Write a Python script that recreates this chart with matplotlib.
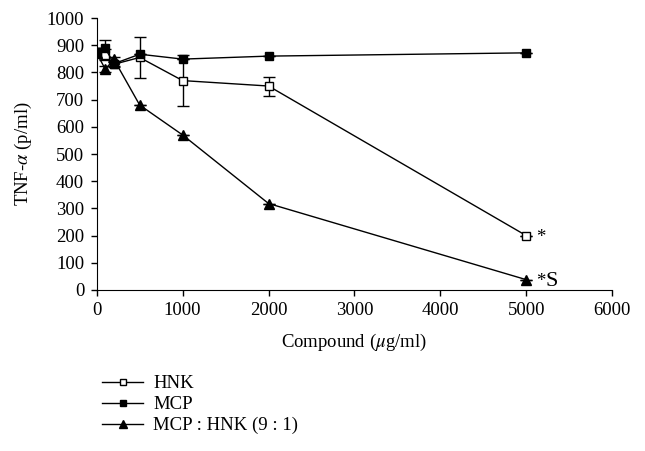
import matplotlib
matplotlib.use("Agg")
import matplotlib.pyplot as plt
from matplotlib.lines import Line2D

plt.rcParams['font.family'] = ['Liberation Serif', 'DejaVu Serif']
plt.rcParams['mathtext.fontset'] = 'stix'

# data
dose = [0, 100, 200, 500, 1000, 2000, 5000]
hnk = [875, 865, 830, 855, 770, 750, 200]
hnk_err = [15, 20, 10, 77, 93, 35, 0]
mcp = [875, 888, 832, 867, 849, 860, 872]
mcp_err = [15, 30, 10, 0, 0, 0, 0]
mix = [870, 812, 848, 680, 570, 318, 38]
mix_err = [0, 10, 10, 0, 0, 0, 0]
legend_names = ['HNK', 'MCP', 'MCP : HNK (9 : 1)']

fs = 13.5
fig = plt.figure(figsize=(6.45, 4.51), dpi=100)
ax = fig.add_axes([0.150, 0.357, 0.799, 0.603])

kw = dict(color='black', lw=1, capsize=4, elinewidth=1, capthick=1)
ax.errorbar(dose, hnk, yerr=hnk_err, marker='s', ms=6, mfc='white',
            mec='black', mew=1, **kw)
ax.errorbar(dose, mcp, yerr=mcp_err, marker='s', ms=6, mfc='black',
            mec='black', **kw)
ax.errorbar(dose, mix, yerr=mix_err, marker='^', ms=7, mfc='black',
            mec='black', **kw)

# significance marks
ax.annotate('*', (dose[-1], hnk[-1]), xytext=(7, -1.5), textcoords='offset points',
            fontsize=fs, va='center', ha='left')
ax.annotate('*', (dose[-1], mix[-1]), xytext=(7, -1.5), textcoords='offset points',
            fontsize=fs, va='center', ha='left')
ax.annotate('S', (dose[-1], mix[-1]), xytext=(14, -1), textcoords='offset points',
            fontsize=16, va='center', ha='left')

ax.set_xlim(0, 6000)
ax.set_ylim(0, 1000)
ax.set_xticks(range(0, 6001, 1000))
ax.set_yticks(range(0, 1001, 100))
ax.tick_params(labelsize=fs, direction='out', length=4, width=1, pad=5)
for s in ['top', 'right']:
    ax.spines[s].set_visible(False)
ax.set_xlabel('Compound ($\\mu$g/ml)', fontsize=fs, labelpad=9)
ax.set_ylabel('TNF-$\\alpha$ (p/ml)', fontsize=fs, labelpad=9)

handles = [
    Line2D([], [], color='black', lw=1, marker='s', ms=5, mfc='white', mec='black'),
    Line2D([], [], color='black', lw=1, marker='s', ms=5, mfc='black', mec='black'),
    Line2D([], [], color='black', lw=1, marker='^', ms=6, mfc='black', mec='black'),
]
fig.legend(handles, legend_names, loc='upper left',
           bbox_to_anchor=(0.158, 0.168), frameon=False, fontsize=fs,
           handlelength=2.2, handletextpad=0.55, labelspacing=0.2,
           borderaxespad=0, borderpad=0)

fig.savefig('out.png', dpi=100)
